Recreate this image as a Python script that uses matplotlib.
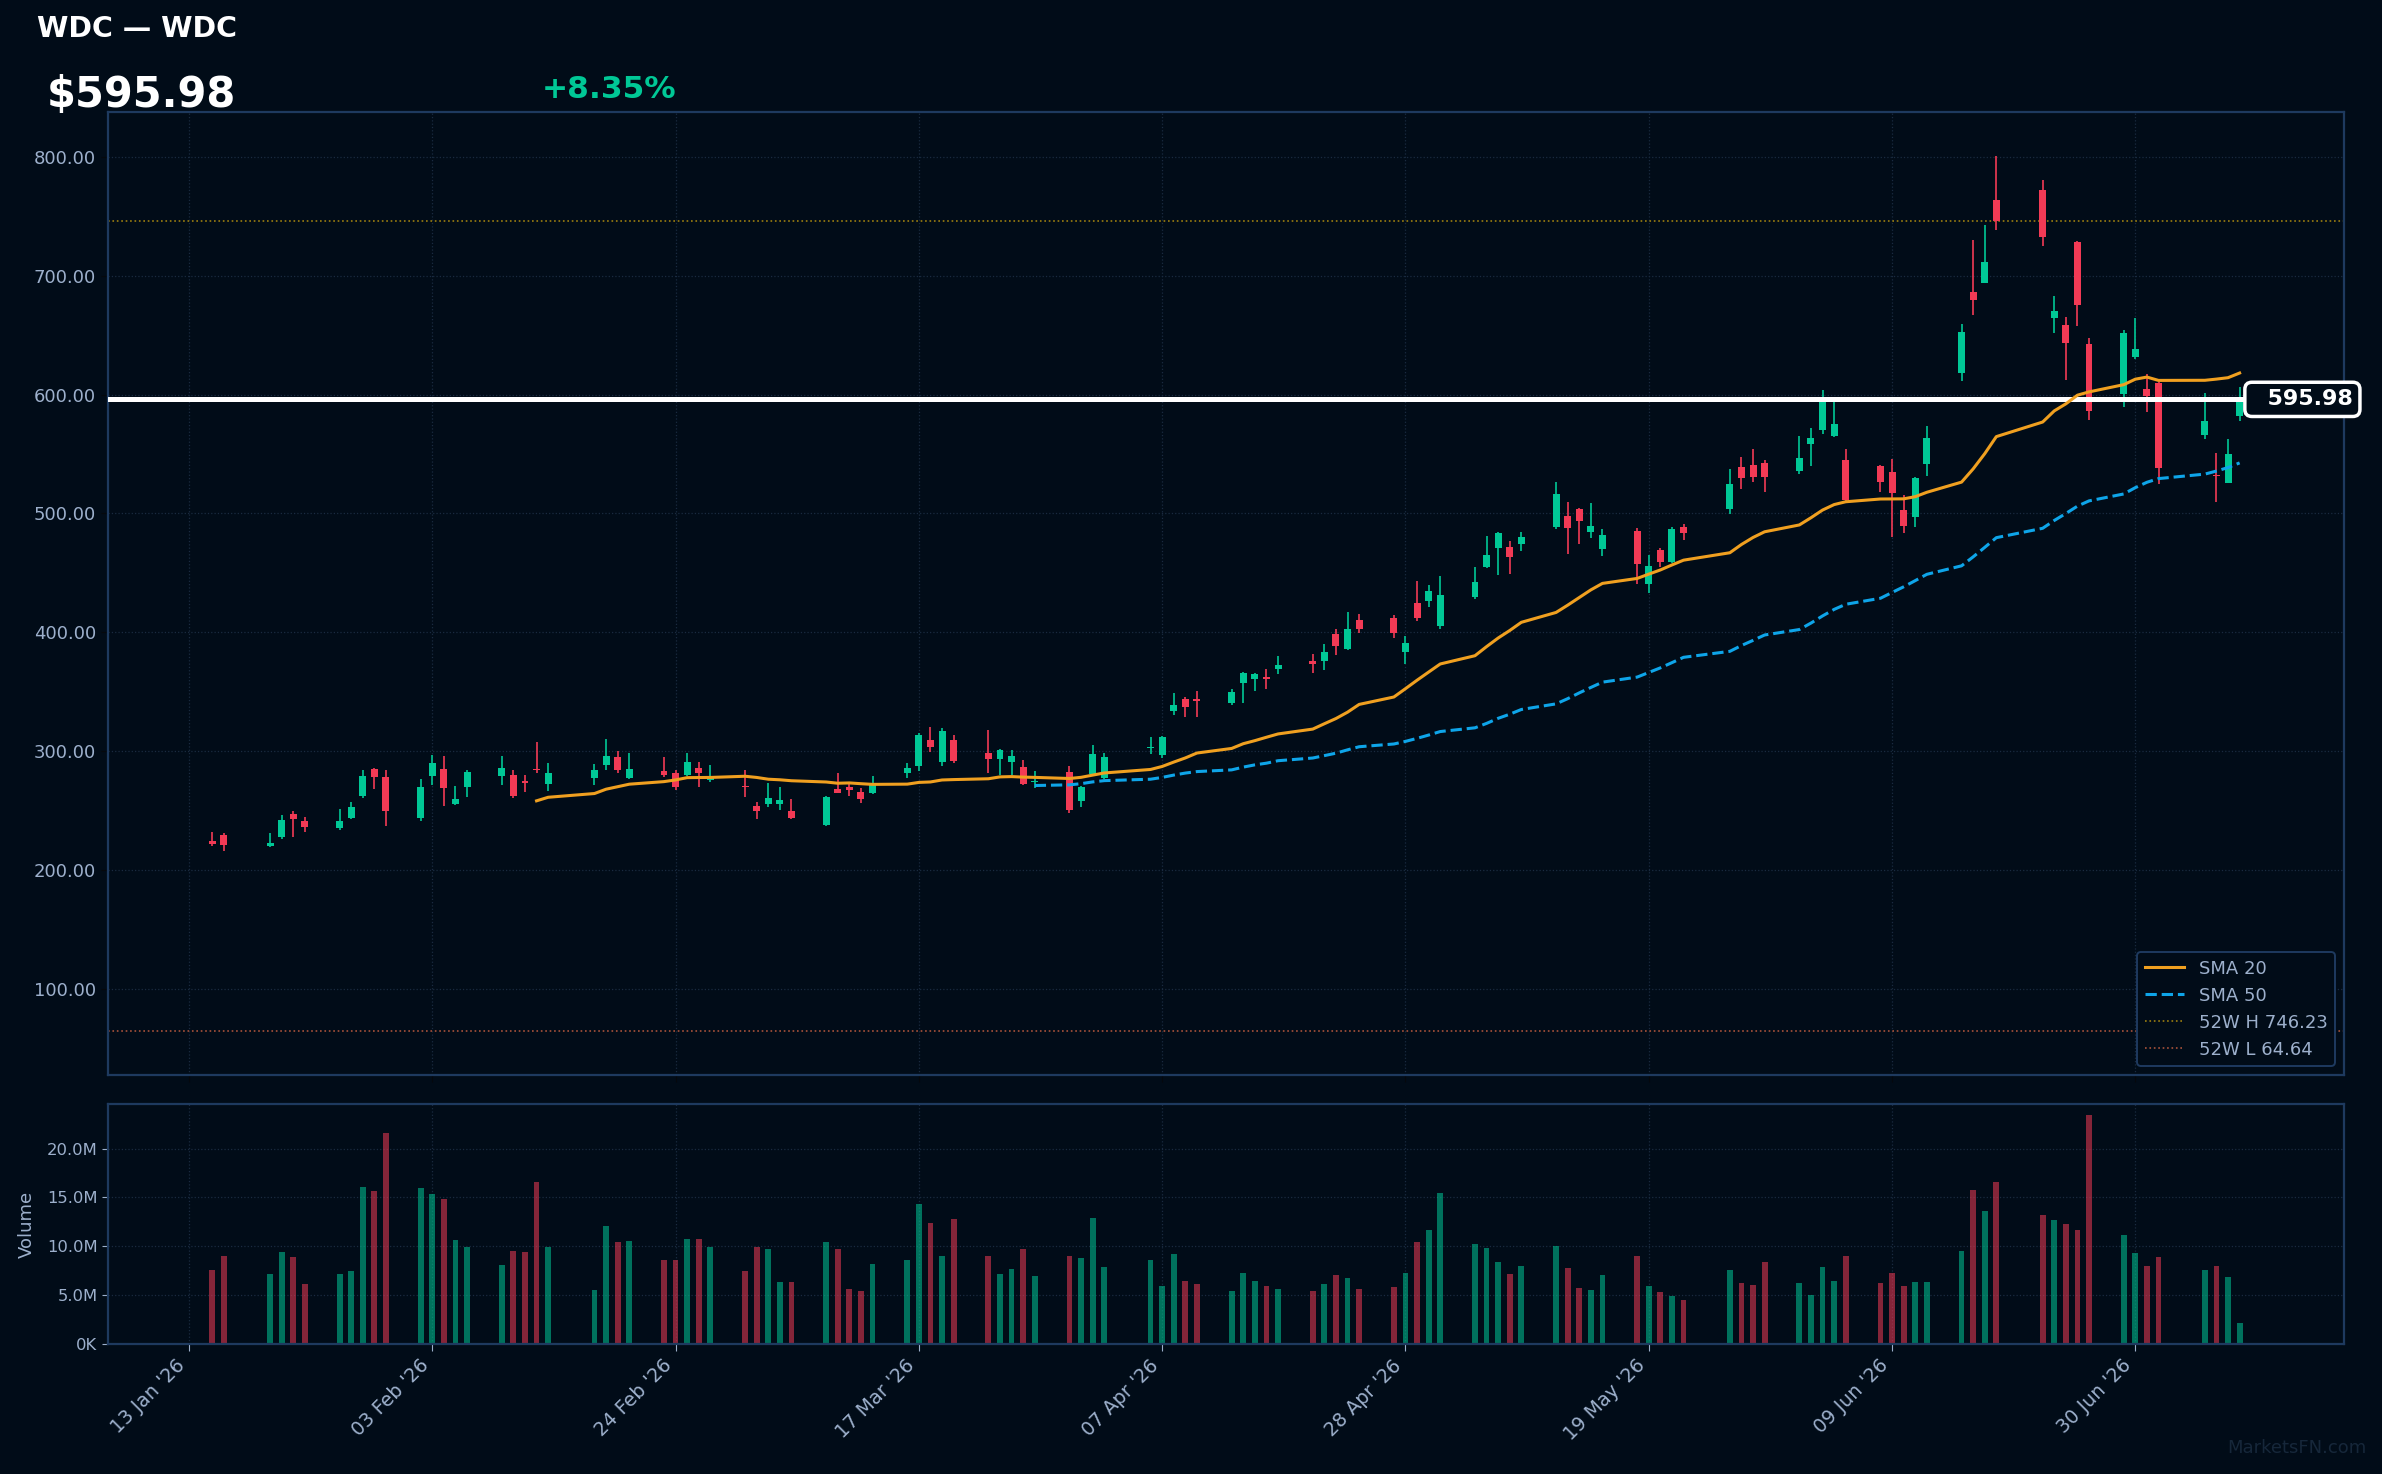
import numpy as np
import pandas as pd
import matplotlib
matplotlib.use("Agg")
import matplotlib.pyplot as plt
import matplotlib.dates as mdates
import matplotlib.transforms as mtransforms
from matplotlib.ticker import FuncFormatter, MultipleLocator

# colours
BG = '#010c18'
SPINE = '#1e3a5f'
GRID = '#1a2b40'
TXT = '#9db0cc'
UP = '#00c896'
DOWN = '#f23a55'

# daily data (WDC, Jan-Jul 2026)
dates = [
    '2026-01-15', '2026-01-16', '2026-01-20', '2026-01-21', '2026-01-22', '2026-01-23',
    '2026-01-26', '2026-01-27', '2026-01-28', '2026-01-29', '2026-01-30',
    '2026-02-02', '2026-02-03', '2026-02-04', '2026-02-05', '2026-02-06',
    '2026-02-09', '2026-02-10', '2026-02-11', '2026-02-12', '2026-02-13',
    '2026-02-17', '2026-02-18', '2026-02-19', '2026-02-20',
    '2026-02-23', '2026-02-24', '2026-02-25', '2026-02-26', '2026-02-27',
    '2026-03-02', '2026-03-03', '2026-03-04', '2026-03-05', '2026-03-06',
    '2026-03-09', '2026-03-10', '2026-03-11', '2026-03-12', '2026-03-13',
    '2026-03-16', '2026-03-17', '2026-03-18', '2026-03-19', '2026-03-20',
    '2026-03-23', '2026-03-24', '2026-03-25', '2026-03-26', '2026-03-27',
    '2026-03-30', '2026-03-31', '2026-04-01', '2026-04-02',
    '2026-04-06', '2026-04-07', '2026-04-08', '2026-04-09', '2026-04-10',
    '2026-04-13', '2026-04-14', '2026-04-15', '2026-04-16', '2026-04-17',
    '2026-04-20', '2026-04-21', '2026-04-22', '2026-04-23', '2026-04-24',
    '2026-04-27', '2026-04-28', '2026-04-29', '2026-04-30', '2026-05-01',
    '2026-05-04', '2026-05-05', '2026-05-06', '2026-05-07', '2026-05-08',
    '2026-05-11', '2026-05-12', '2026-05-13', '2026-05-14', '2026-05-15',
    '2026-05-18', '2026-05-19', '2026-05-20', '2026-05-21', '2026-05-22',
    '2026-05-26', '2026-05-27', '2026-05-28', '2026-05-29',
    '2026-06-01', '2026-06-02', '2026-06-03', '2026-06-04', '2026-06-05',
    '2026-06-08', '2026-06-09', '2026-06-10', '2026-06-11', '2026-06-12',
    '2026-06-15', '2026-06-16', '2026-06-17', '2026-06-18',
    '2026-06-22', '2026-06-23', '2026-06-24', '2026-06-25', '2026-06-26',
    '2026-06-29', '2026-06-30', '2026-07-01', '2026-07-02',
    '2026-07-06', '2026-07-07', '2026-07-08', '2026-07-09',
]

opens = [
    224.5, 229.5, 220.3, 228.1, 246.9, 241.1,
    235.6, 243.6, 262.8, 285.3, 278.6,
    243.6, 278.9, 285.3, 255.6, 269.7,
    278.9, 280.3, 275.3, 285.3, 272.2,
    277.2, 288.1, 295.3, 277.2,
    283.6, 282.0, 279.7, 286.1, 275.6,
    270.6, 253.8, 255.8, 255.8, 249.9,
    238.1, 268.4, 270.1, 265.8, 265.0,
    281.8, 287.7, 309.5, 291.1, 309.5,
    298.6, 293.6, 291.1, 286.9, 274.0,
    282.7, 258.6, 281.0, 277.6,
    302.6, 296.9, 333.9, 344.0, 344.0,
    340.6, 357.4, 360.8, 362.5, 369.2,
    375.9, 376.2, 398.6, 386.0, 410.4,
    412.0, 383.8, 424.7, 426.6, 405.6,
    430.0, 454.9, 471.2, 471.7, 474.5,
    488.5, 497.8, 503.6, 484.3, 470.0,
    485.2, 440.6, 469.2, 459.1, 488.5,
    503.6, 538.9, 540.6, 542.3,
    535.6, 558.3, 570.0, 565.1, 545.3,
    540.2, 535.2, 502.7, 497.1, 541.9,
    618.0, 686.5, 694.2, 763.9,
    772.3, 664.2, 658.1, 728.6, 642.9,
    600.1, 631.5, 604.6, 609.9,
    565.9, 532.1, 525.7, 582.0,
]

highs = [
    232.0, 231.1, 231.1, 246.1, 249.5, 244.5,
    251.1, 257.8, 284.5, 286.1, 284.5,
    277.0, 297.0, 296.1, 271.1, 284.5,
    296.1, 284.5, 280.3, 307.8, 290.3,
    289.5, 310.3, 300.3, 298.6,
    295.3, 284.5, 298.6, 291.1, 288.6,
    284.5, 257.2, 273.4, 270.0, 260.0,
    262.5, 281.8, 272.6, 269.2, 279.3,
    290.2, 315.4, 320.5, 319.6, 313.7,
    317.9, 302.0, 301.1, 292.7, 283.5,
    287.7, 270.9, 305.3, 298.6,
    312.1, 312.9, 349.0, 345.7, 350.7,
    352.4, 366.7, 365.8, 369.2, 380.1,
    381.8, 390.2, 402.8, 417.1, 415.4,
    414.6, 396.9, 443.2, 439.8, 447.3,
    454.9, 480.9, 484.3, 476.8, 484.3,
    526.3, 509.5, 504.5, 508.7, 486.8,
    487.7, 465.0, 470.9, 488.5, 491.0,
    537.3, 547.3, 554.1, 544.8,
    565.0, 571.7, 603.6, 593.7, 554.5,
    541.1, 546.1, 515.9, 530.7, 573.3,
    659.7, 730.3, 742.9, 800.8,
    780.7, 683.3, 665.6, 729.4, 648.0,
    653.9, 664.8, 617.2, 610.5,
    601.5, 550.6, 562.9, 606.0,
]

lows = [
    220.6, 216.1, 219.7, 226.4, 228.1, 232.2,
    233.9, 243.1, 260.6, 268.1, 237.2,
    241.4, 271.4, 253.9, 254.7, 261.4,
    271.4, 260.6, 265.6, 282.2, 266.4,
    271.4, 283.9, 281.4, 277.0,
    278.1, 267.2, 278.9, 269.7, 273.9,
    261.4, 243.4, 253.5, 251.0, 243.4,
    237.6, 265.3, 262.5, 256.6, 264.4,
    277.6, 283.5, 299.4, 287.7, 290.2,
    281.8, 280.1, 280.1, 271.7, 269.2,
    248.5, 253.5, 280.1, 276.8,
    297.8, 294.4, 330.5, 328.9, 328.9,
    339.0, 340.6, 350.7, 352.4, 365.0,
    366.1, 368.4, 381.2, 385.4, 399.7,
    395.5, 373.7, 409.8, 421.6, 403.1,
    428.3, 454.4, 448.5, 449.3, 468.4,
    486.8, 465.8, 474.2, 479.3, 464.2,
    440.6, 433.1, 454.9, 458.3, 477.6,
    499.4, 520.4, 526.3, 517.9,
    533.1, 539.8, 567.0, 564.3, 509.0,
    518.1, 480.3, 483.7, 488.7, 531.3,
    611.3, 666.7, 693.6, 738.4,
    725.2, 652.2, 612.4, 657.5, 578.8,
    589.5, 629.8, 585.3, 525.1,
    562.6, 509.7, 525.7, 578.0,
]

closes = [
    222.2, 221.4, 223.3, 242.0, 243.1, 236.4,
    241.1, 252.8, 279.5, 278.1, 249.7,
    270.3, 290.3, 268.9, 260.3, 282.8,
    286.1, 262.2, 273.1, 283.9, 282.0,
    284.5, 296.1, 283.9, 285.3,
    279.7, 269.7, 291.1, 281.4, 279.5,
    269.7, 250.2, 260.8, 259.1, 244.3,
    261.6, 265.3, 267.5, 260.0, 272.6,
    286.0, 313.7, 303.7, 317.1, 291.9,
    293.6, 301.1, 296.1, 272.6, 274.9,
    251.0, 270.1, 297.8, 295.3,
    303.2, 312.1, 339.0, 337.3, 342.3,
    349.9, 365.8, 365.0, 360.8, 372.6,
    373.7, 383.5, 388.8, 402.8, 403.1,
    399.7, 391.1, 412.3, 434.8, 431.4,
    442.3, 465.0, 483.5, 463.6, 480.1,
    516.2, 487.7, 493.6, 489.4, 481.8,
    457.4, 455.7, 459.1, 486.8, 483.5,
    524.7, 529.7, 530.5, 530.5,
    546.5, 563.3, 594.4, 575.5, 511.1,
    526.5, 517.3, 489.3, 529.9, 563.2,
    653.0, 679.9, 711.8, 745.7,
    732.2, 670.7, 643.2, 675.1, 586.1,
    652.2, 638.7, 598.7, 538.3,
    577.4, 531.2, 550.04, 595.98,
]

# volume in millions of shares
volumes_m = [
    7.53, 8.96, 7.12, 9.37, 8.86, 6.10,
    7.12, 7.43, 16.1, 15.7, 21.6,
    16.0, 15.4, 14.8, 10.6, 9.88,
    8.04, 9.57, 9.37, 16.6, 9.88,
    5.49, 12.1, 10.4, 10.5,
    8.55, 8.65, 10.8, 10.8, 9.88,
    7.43, 9.98, 9.68, 6.30, 6.30,
    10.4, 9.68, 5.59, 5.38, 8.14,
    8.55, 14.3, 12.4, 9.06, 12.8,
    8.96, 7.12, 7.63, 9.68, 6.92,
    9.06, 8.76, 12.9, 7.84,
    8.55, 5.89, 9.17, 6.41, 6.10,
    5.38, 7.23, 6.41, 5.89, 5.59,
    5.38, 6.10, 7.02, 6.72, 5.59,
    5.80, 7.23, 10.4, 11.7, 15.5,
    10.2, 9.79, 8.36, 7.13, 7.95,
    10.0, 7.75, 5.70, 5.49, 7.03,
    8.98, 5.90, 5.29, 4.95, 4.47,
    7.54, 6.21, 6.00, 8.36,
    6.21, 4.98, 7.85, 6.41, 8.98,
    6.21, 7.23, 5.90, 6.31, 6.31,
    9.49, 15.8, 13.6, 16.6,
    13.2, 12.7, 12.25, 11.7, 23.4,
    11.2, 9.28, 7.95, 8.87,
    7.54, 7.95, 6.82, 2.12,
]

ticker = 'WDC'
last_price = 595.98
change_pct = 8.35
high_52w = 746.23
low_52w = 64.64
tick_dates = ['2026-01-13', '2026-02-03', '2026-02-24', '2026-03-17', '2026-04-07',
              '2026-04-28', '2026-05-19', '2026-06-09', '2026-06-30']

df = pd.DataFrame({'open': opens, 'high': highs, 'low': lows, 'close': closes,
                   'volume': np.array(volumes_m) * 1e6}, index=pd.to_datetime(dates))
df['sma20'] = df['close'].rolling(20).mean()
df['sma50'] = df['close'].rolling(50).mean()

x = mdates.date2num(df.index.to_pydatetime())
up = df['close'] >= df['open']
colors = np.where(up, UP, DOWN)

plt.rcParams['font.family'] = ['DejaVu Sans']
fig = plt.figure(figsize=(23.82, 14.74), dpi=100, facecolor=BG)
ax = fig.add_axes([0.0453, 0.2707, 0.9387, 0.6533])
axv = fig.add_axes([0.0453, 0.0882, 0.9387, 0.1628], sharex=ax)

for a in (ax, axv):
    a.set_facecolor(BG)
    for s in a.spines.values():
        s.set_color(SPINE)
        s.set_linewidth(1.6)
    a.grid(True, color=GRID, linestyle=':', linewidth=0.9)
    a.set_axisbelow(True)

# candles
ax.vlines(x, df['low'], df['high'], colors=colors, linewidth=1.2, zorder=2)
body = np.maximum((df['close'] - df['open']).abs(), 0.9)
ax.bar(x, body, bottom=np.minimum(df['open'], df['close']), width=0.6,
       color=colors, linewidth=0, zorder=2)

# moving averages
ax.plot(x, df['sma20'], color='#f0a020', linewidth=2.2, label='SMA 20', zorder=4)
ax.plot(x, df['sma50'], color='#0ea5e9', linewidth=2.2, linestyle='--', label='SMA 50', zorder=4)

ax.axhline(high_52w, color='#9c7f10', linestyle=':', linewidth=1.2, label=f'52W H {high_52w:.2f}', zorder=1)
ax.axhline(low_52w, color='#a8523a', linestyle=':', linewidth=1.2, label=f'52W L {low_52w:.2f}', zorder=1)

# current price
ax.axhline(last_price, color='white', linewidth=3.6, zorder=3)
trans = mtransforms.blended_transform_factory(ax.transAxes, ax.transData)
ax.text(1.004, last_price, f'  {last_price:.2f}', transform=trans, ha='right', va='center',
        fontsize=16, fontweight='bold', color='white', zorder=10, clip_on=False,
        bbox=dict(boxstyle='round,pad=0.32', facecolor=BG, edgecolor='white', linewidth=2.5))

lo = min(low_52w, df['low'].min())
hi = max(high_52w, df['high'].max())
pad = (hi - lo) * 0.05
ax.set_ylim(lo - pad, hi + pad)
ax.set_xlim(x[0] - 9, x[-1] + 9)
ax.yaxis.set_major_locator(MultipleLocator(100))
ax.yaxis.set_major_formatter(FuncFormatter(lambda v, p: f'{v:.2f}'))
ax.tick_params(axis='y', colors='#05080c', labelcolor=TXT, labelsize=13, length=5)
ax.tick_params(axis='x', colors='#05080c', labelbottom=False, length=5)

leg = ax.legend(loc='lower right', fontsize=13, facecolor=BG, edgecolor=SPINE,
                labelcolor=TXT, framealpha=1.0, handlelength=2.2)
leg.get_frame().set_linewidth(1.4)

# volume
axv.bar(x, df['volume'], width=0.5, color=colors, alpha=0.55, linewidth=0)
axv.set_ylim(0, df['volume'].max() * 1.05)
axv.yaxis.set_major_locator(MultipleLocator(5e6))
axv.yaxis.set_major_formatter(FuncFormatter(
    lambda v, p: f'{v / 1e6:.1f}M' if v >= 1e6 else f'{v / 1e3:.0f}K'))
axv.set_ylabel('Volume', color=TXT, fontsize=13, labelpad=8)
axv.tick_params(axis='y', colors=TXT, labelsize=11.8, length=4)
axv.tick_params(axis='x', colors=TXT, labelsize=13.8, length=5)

axv.set_xticks(mdates.date2num(pd.to_datetime(tick_dates).to_pydatetime()))
axv.xaxis.set_major_formatter(mdates.DateFormatter("%d %b '%y"))
for lbl in axv.get_xticklabels():
    lbl.set_rotation(45)
    lbl.set_ha('right')

# header
fig.text(0.0155, 0.9751, f'{ticker} \u2014 {ticker}', color='white', fontsize=20.5,
         fontweight='bold', va='baseline')
fig.text(0.0197, 0.9274, f'${last_price:.2f}', color='white', fontsize=30,
         fontweight='bold', va='baseline')
fig.text(0.2275, 0.9337, f'+{change_pct:.2f}%', color=UP, fontsize=22.5,
         fontweight='bold', va='baseline')
fig.text(0.9933, 0.0142, 'MarketsFN.com', color='#16273a', fontsize=13,
         ha='right', va='baseline')

fig.savefig('out.png', dpi=100, facecolor=BG)
